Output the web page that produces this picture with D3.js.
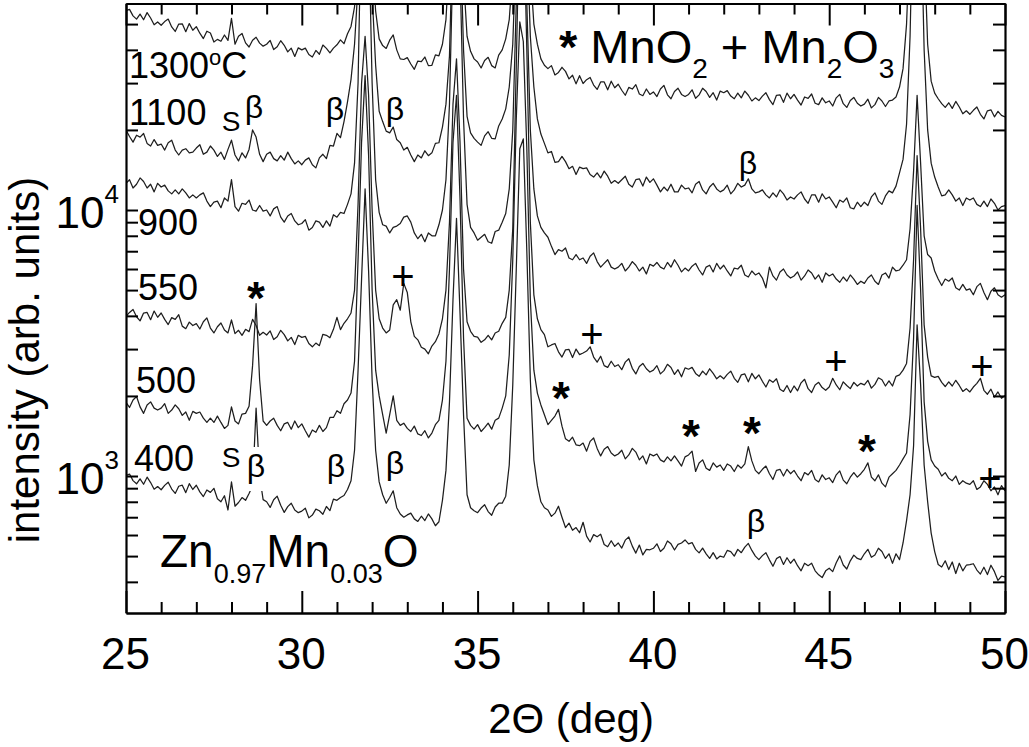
<!DOCTYPE html>
<html><head><meta charset="utf-8">
<script src="https://cdn.jsdelivr.net/npm/d3@7/dist/d3.min.js"></script>
<style>
body{margin:0;background:#fff}
svg{display:block}
text{font-family:"Liberation Sans",Arial,Helvetica,sans-serif;fill:#000}
</style>
</head><body>
<svg id="chart" width="1029" height="747"></svg>
<script>
// ---- measurement grid (2-theta, deg) ----
const thetaStart = 25, thetaStep = 0.1;

// ---- intensity series (arb. units), one value per 0.1 deg from 25.0 to 50.0 ----
const c1300 = [
56100,56800,53700,52200,54500,51900,55200,52700,49700,50900,
49500,51100,52200,48800,46900,50000,50100,46800,50200,47400,
48900,46200,44100,47000,46300,42800,43800,43100,45500,43400,
52500,42000,45000,46100,42500,41000,43500,44600,42400,41300,
42000,43400,40100,41100,43300,41600,39300,40600,37800,40700,
40000,40600,38400,37600,39800,38500,41700,40500,39000,40600,
41800,43600,42200,46000,49000,58000,90000,250000,400000,250000,
90000,56000,44000,41500,40500,43500,45500,40000,37000,36800,
37400,35400,33800,36300,36100,37600,34900,35000,38300,38000,
42000,52000,90000,250000,400000,200000,75000,45000,39500,37000,
36000,34200,36500,37500,34900,34200,38200,40000,44000,52000,
80000,200000,500000,500000,200000,80000,50000,42000,37000,35000,
34000,34900,32200,32900,34400,33200,31100,32100,29800,32000,
29900,30900,31500,29500,28400,30300,30300,28300,30500,28800,
29700,28200,27000,28900,28500,29600,27300,26900,28500,27200,
27800,26700,28500,29400,27100,26200,27900,28700,27200,26700,
27200,28300,26300,27100,28700,27900,26500,27600,25900,28000,
27600,28100,26800,26200,27500,26400,28000,27000,25700,26400,
25800,26800,27600,26000,24900,27000,27100,25400,27500,26200,
27200,25900,24800,26600,26300,27300,25200,24900,26400,25300,
25700,24600,26400,27200,25100,24300,25800,26500,25200,24600,
25000,26100,24200,24900,26500,25700,24500,25700,25900,26600,
29000,34000,50000,110000,300000,450000,300000,100000,42000,30500,
27500,26200,25100,24300,25300,24100,25600,24400,23000,23600,
22900,23700,24400,22900,22000,23600,23800,22400,23500,22700,
22400];

const c1100 = [
20000,18900,18000,19100,18800,19400,17800,17400,18400,17500,
17700,16800,17900,18300,16800,16100,16800,17000,16400,16500,
17100,17600,16200,16500,17400,16800,15900,16500,15500,16900,
18300,16100,15300,16400,15700,16900,20000,18800,16200,15200,
16200,16500,15600,15300,16000,15400,16500,15600,14900,15300,
14800,15400,15700,14800,14400,15700,16200,15600,17500,17400,
19400,18700,21500,25500,31000,42000,70000,200000,300000,200000,
65000,35000,23500,21500,19800,19500,20500,18400,17900,16800,
17200,16100,15200,16100,15700,16700,16000,16400,17800,17900,
20500,25000,38000,120000,300000,120000,40000,22500,19500,18600,
18000,17500,19000,19700,18600,18500,20700,22000,24000,29000,
42000,100000,300000,300000,110000,45000,29000,22000,19300,17800,
16400,16600,15100,15200,15900,15200,14300,14600,13600,14500,
14300,14400,13600,13300,13800,13200,14000,13400,12600,12900,
12600,13000,13400,12500,12200,13000,13100,12300,13300,12700,
13100,12400,11700,12200,11800,12500,11700,11700,12400,12000,
12100,11600,12500,12800,11900,11500,12200,12600,12000,11700,
11900,12400,11500,11900,12600,12200,12400,13100,12000,11600,
11700,11900,11400,11100,11600,11200,11900,11500,10900,11200,
11000,11400,11700,11000,10600,11400,11400,10700,11500,11000,
11200,10700,10200,10900,10700,11100,10200,10100,10700,10300,
10700,10400,11200,11600,10800,10500,11300,11800,11600,12300,
13800,15500,21000,45000,180000,300000,150000,40000,20000,15000,
13300,12200,11300,11400,11900,11400,10800,11100,10400,11100,
10900,11100,10500,10300,10800,10300,11000,10600,10000,10300,
10400];

const c900 = [
12600,13000,12100,12500,13200,12800,12100,12500,11700,12600,
12200,12400,11800,11500,11900,11500,12000,11600,11100,11400,
11100,11400,11600,10800,10300,10700,10800,10200,11100,10800,
13000,10300,9900,10600,10500,10900,10000,9900,10400,9900,
10000,9500,10100,10300,9400,9000,9500,9700,9100,8800,
8900,9200,8400,8600,9100,9000,8600,9100,8700,9600,
9400,9800,9700,10500,11500,15000,30000,150000,200000,120000,
30000,13000,9800,8800,8700,8200,8600,8700,8900,9400,
9500,9000,8200,7800,8100,7600,8200,8000,8000,8800,
10000,13000,25000,90000,180000,80000,22000,10500,8600,8200,
7700,7900,8100,7600,7500,8300,8400,9000,9700,12000,
20000,60000,200000,200000,60000,20000,12000,9500,8600,8200,
7900,7300,6800,7100,7000,7200,6600,6500,6800,6500,
6600,6300,6700,6900,6400,6100,6300,6500,6100,6000,
6100,6300,5900,6100,6400,6200,5900,6100,5750,6250,
6150,6350,6100,6000,6350,6100,6500,6200,5850,6050,
5900,6150,6300,5950,5700,6100,6200,5850,6300,6000,
6200,5900,5650,6050,6000,6200,5700,5600,5900,5700,
5800,5550,5100,6100,5650,5450,5850,6000,5700,5550,
5650,5850,5450,5650,5950,5800,5500,5700,5350,5800,
5650,5750,5500,5350,5600,5400,5700,5500,5250,5400,
5300,5550,5700,5400,5250,5700,5800,5550,6100,5900,
5950,6200,6500,8500,14000,27000,15000,8000,6800,6600,
5900,5500,5200,5500,5400,5550,5100,5000,5250,5000,
5050,4800,5150,5300,4900,4600,4950,5100,4800,4700,
4800];

const c550 = [
3980,4120,4230,3970,3830,4100,4120,3870,4170,3950,
4100,3880,3710,3940,3880,4040,3660,3580,3790,3680,
3740,3570,3800,3930,3600,3450,3640,3760,3540,3450,
3860,3430,3530,3380,3560,3490,3880,3680,3380,3470,
3390,3510,3260,3340,3530,3400,3220,3320,3120,3380,
3320,3350,3150,3060,3160,3090,3410,3380,3310,3560,
3950,3550,3750,3900,4100,5000,10500,30000,45000,27000,
10000,5000,3900,3600,3450,3540,4400,4600,4200,5300,
4900,3800,3350,3250,3050,3000,2880,3080,3200,3420,
3900,5000,9000,25000,37000,18000,6000,3800,3500,3350,
3330,3180,3250,3380,3250,3450,3500,3750,3950,5000,
8500,35000,150000,150000,40000,9000,4800,3900,3550,3400,
3060,3110,3150,2930,2800,2980,2990,2790,3000,2860,
2900,2950,3060,2800,2680,2820,2600,2560,2700,2580,
2620,2510,2680,2760,2540,2420,2580,2650,2530,2460,
2500,2600,2420,2490,2630,2560,2410,2510,2360,2550,
2520,2560,2430,2370,2480,2400,2530,2430,2320,2380,
2320,2410,2480,2330,2250,2400,2420,2260,2430,2320,
2400,2270,2160,2300,2250,2320,2120,2080,2190,2060,
2180,2090,2240,2310,2130,2060,2200,2250,2150,2100,
2160,2330,2200,2110,2260,2190,2130,2250,2180,2230,
2200,2290,2140,2210,2340,2300,2180,2280,2180,2370,
2400,2500,2650,3600,6500,16000,8500,3700,2800,2380,
2350,2370,2250,2170,2260,2180,2290,2190,2080,2130,
2070,2160,2230,2330,2100,2030,2120,1980,2070,1960,
2010];

const c500 = [
1890,1810,1930,1990,1820,1720,1850,1900,1800,1770,
1800,1870,1720,1770,1850,1790,1690,1740,1620,1750,
1720,1740,1650,1590,1650,1590,1680,1590,1510,1550,
1820,1610,1570,1710,1720,1830,2600,4450,2300,1610,
1550,1610,1650,1550,1480,1570,1590,1500,1610,1520,
1570,1480,1400,1490,1460,1550,1470,1520,1660,1660,
1760,1720,1870,1930,2050,2700,6500,18000,32000,16000,
5000,2500,2000,1700,1450,1700,2000,1620,1550,1580,
1510,1470,1540,1440,1420,1480,1390,1450,1560,1620,
1930,2700,6000,18000,27000,11000,3300,1650,1550,1500,
1560,1470,1520,1580,1500,1620,1650,1800,2000,2850,
6500,22000,51000,43000,17000,4600,2500,2050,1850,1700,
1560,1620,1680,1780,1540,1380,1350,1400,1310,1300,
1330,1240,1350,1390,1270,1190,1260,1290,1220,1190,
1210,1250,1160,1200,1270,1230,1150,1190,1110,1210,
1190,1210,1150,1130,1180,1140,1190,1140,1090,1180,
1200,1240,1040,1120,1150,1070,1050,1120,1080,1100,
1050,1110,1090,1040,1100,1070,1110,1290,1140,1050,
1020,1060,1090,1020,970,1050,1060,1000,1060,1020,
1050,1000,960,1030,1010,1050,970,950,1010,970,
985,945,1010,1045,965,935,990,1030,990,1020,
1060,1120,990,960,1010,940,910,990,1020,1050,
1100,1160,1220,1700,3300,10400,5000,1900,1350,1150,
1090,1060,1000,1030,980,960,1000,930,960,940,
930,960,890,910,960,930,880,910,850,920,
880];

const c400 = [
1005,1017,961,935,976,931,990,945,892,913,
888,922,948,893,860,915,924,866,936,890,
923,872,837,886,868,899,821,800,843,745,
950,770,795,830,810,860,920,1800,1000,815,
800,762,814,840,776,730,767,790,745,728,
738,757,696,713,751,740,718,768,741,819,
810,830,845,890,960,1250,2500,5500,12000,5900,
2300,1250,950,850,790,830,880,760,720,700,
714,725,690,675,706,680,720,690,650,673,
810,1050,1900,4600,9300,4100,1700,850,760,740,
728,758,780,735,712,765,790,790,840,1100,
2200,6000,17000,18500,7000,2300,1150,920,800,760,
745,705,725,770,700,640,665,625,640,612,
670,594,565,602,591,604,553,542,571,544,
560,536,574,590,545,513,550,505,530,528,
535,556,520,535,570,556,527,553,560,575,
556,562,530,514,536,510,490,515,488,500,
495,525,520,500,530,515,540,558,525,500,
485,502,515,484,458,489,498,465,493,470,
487,460,440,470,460,470,440,425,415,440,
450,437,472,501,463,447,480,504,490,485,
510,530,495,505,535,520,490,510,470,510,
485,560,680,850,1300,3700,2200,1100,800,610,
520,465,455,480,445,475,430,470,440,462,
464,468,443,428,454,426,462,437,405,420,
418];

const seriesList = [c1300, c1100, c900, c550, c500, c400];

// ---- axis ticks / labels ----
const xMajorTicks = [25, 30, 35, 40, 45, 50];
const xMinorTicks = [26,27,28,29,31,32,33,34,36,37,38,39,41,42,43,44,46,47,48,49];
const yLabelTicks = [{v:1000, base:"10", exp:"3"}, {v:10000, base:"10", exp:"4"}];
const xTitle = "2\u0398 (deg)";
const yTitle = "intensity (arb. units)";

// ---- annotation texts ----
const curveLabels = [
  {parts:[{t:"1300"},{t:"o", size:22, dy:-13},{t:"C", dy:13}], x:129, y:78},
  {parts:[{t:"1100"}], x:129, y:125},
  {parts:[{t:"900"}], x:138, y:235},
  {parts:[{t:"550"}], x:138, y:300},
  {parts:[{t:"500"}], x:136, y:393},
  {parts:[{t:"400"}], x:134, y:471}
];
const marks = [
  {t:"S", x:231, y:131, size:28},
  {t:"\u03B2", x:254, y:118, size:32},
  {t:"\u03B2", x:335, y:120, size:32},
  {t:"\u03B2", x:395, y:120, size:32},
  {t:"\u03B2", x:748, y:174, size:32},
  {t:"*", x:256, y:314, size:46, bold:true},
  {t:"+", x:403, y:290, size:40},
  {t:"+", x:592, y:348, size:40},
  {t:"*", x:561, y:414, size:46, bold:true},
  {t:"+", x:836, y:375, size:40},
  {t:"+", x:982, y:380, size:40},
  {t:"*", x:691, y:452, size:46, bold:true},
  {t:"*", x:752, y:449, size:46, bold:true},
  {t:"*", x:867, y:467, size:46, bold:true},
  {t:"+", x:990, y:492, size:40},
  {t:"S", x:231, y:467, size:28},
  {t:"\u03B2", x:256, y:477, size:32, knock:true},
  {t:"\u03B2", x:336, y:477, size:32},
  {t:"\u03B2", x:395, y:474, size:32},
  {t:"\u03B2", x:756, y:532, size:32}
];
const sampleLabel = [{t:"Zn"},{t:"0.97", size:27, dy:16},{t:"Mn", dy:-16},{t:"0.03", size:27, dy:16},{t:"O", dy:-16}];
const legendLabel = [{t:"*", bold:true},{t:" MnO"},{t:"2", size:28, dy:15},{t:" + Mn", dy:-15},{t:"2", size:28, dy:15},{t:"O", dy:-15},{t:"3", size:28, dy:15}];

// ---- layout ----
const svg = d3.select("#chart");
const L = 126, R = 1005, T = 3.5, B = 613;
const x = d3.scaleLinear().domain([25, 50]).range([L, R]);
const y = d3.scaleLog().domain([305.5, 59750]).range([B, T]);

svg.append("rect").attr("width",1029).attr("height",747).attr("fill","#fff");
svg.append("clipPath").attr("id","plotclip").append("rect")
  .attr("x",L).attr("y",T).attr("width",R-L).attr("height",B-T);

const line = d3.line()
  .x((d,i) => x(thetaStart + i*thetaStep))
  .y(d => y(d));

const gLines = svg.append("g").attr("clip-path","url(#plotclip)");
gLines.selectAll("path").data(seriesList).join("path")
  .attr("d", line)
  .attr("fill","none")
  .attr("stroke","#1e1e1e")
  .attr("stroke-width",1.25)
  .attr("stroke-linejoin","round");

// ---- axes ----
function styleAxis(g){
  g.selectAll("path.domain").attr("stroke","#000").attr("stroke-width",2.2);
  g.selectAll(".tick line").attr("stroke","#000").attr("stroke-width",2);
  g.selectAll(".tick text").attr("font-family",'"Liberation Sans",Arial,sans-serif').attr("fill","#000");
}
const yTicksAll = y.ticks();

svg.append("g").attr("transform",`translate(0,${B})`)
  .call(d3.axisBottom(x).tickValues(xMinorTicks).tickSize(-11).tickSizeOuter(0).tickFormat(""))
  .call(styleAxis);
svg.append("g").attr("transform",`translate(0,${B})`)
  .call(d3.axisBottom(x).tickValues(xMajorTicks).tickSize(-22).tickSizeOuter(0).tickPadding(25).tickFormat(d3.format("d")))
  .call(styleAxis)
  .call(g => g.selectAll(".tick text").attr("font-size",44).attr("dx",-1));
svg.append("g").attr("transform",`translate(0,${T})`)
  .call(d3.axisTop(x).tickValues(xMinorTicks).tickSize(-11).tickSizeOuter(0).tickFormat(""))
  .call(styleAxis);
svg.append("g").attr("transform",`translate(0,${T})`)
  .call(d3.axisTop(x).tickValues(xMajorTicks).tickSize(-22).tickSizeOuter(0).tickFormat(""))
  .call(styleAxis);
svg.append("g").attr("transform",`translate(${L},0)`)
  .call(d3.axisLeft(y).tickValues(yTicksAll).tickSize(-12).tickSizeOuter(0).tickFormat(""))
  .call(styleAxis);
svg.append("g").attr("transform",`translate(${R},0)`)
  .call(d3.axisRight(y).tickValues(yTicksAll).tickSize(-12).tickSizeOuter(0).tickFormat(""))
  .call(styleAxis);

// y tick labels with exponent
yLabelTicks.forEach(d => {
  const t = svg.append("text").attr("x", L-7).attr("y", y(d.v)+18)
    .attr("text-anchor","end").attr("font-size",44);
  t.append("tspan").text(d.base);
  t.append("tspan").attr("font-size",26).attr("dy",-25).text(d.exp);
});

// axis titles
svg.append("text").attr("x",571).attr("y",733).attr("text-anchor","middle")
  .attr("font-size",42).text(xTitle);
svg.append("text").attr("transform","translate(39,360) rotate(-90)")
  .attr("text-anchor","middle").attr("font-size",42).text(yTitle);

// rich text helper
function rich(parts, x0, y0, size, anchor){
  const t = svg.append("text").attr("x",x0).attr("y",y0).attr("font-size",size)
    .attr("text-anchor",anchor||"start").attr("xml:space","preserve");
  parts.forEach(p => {
    const s = t.append("tspan").text(p.t);
    if (p.size) s.attr("font-size",p.size);
    if (p.dy) s.attr("dy",p.dy);
    if (p.bold) s.attr("font-weight","bold");
  });
  return t;
}

curveLabels.forEach(d => rich(d.parts, d.x, d.y, 36));

marks.forEach(d => {
  if (d.knock){
    svg.append("rect").attr("x",d.x-11).attr("y",d.y-30).attr("width",22).attr("height",44).attr("fill","#fff");
  }
  svg.append("text").attr("x",d.x).attr("y",d.y).attr("text-anchor","middle")
    .attr("font-size",d.size).attr("font-weight",d.bold?"bold":"normal").text(d.t);
});

rich(sampleLabel, 160, 567, 46);
rich(legendLabel, 559, 63, 47);
</script>
</body></html>
